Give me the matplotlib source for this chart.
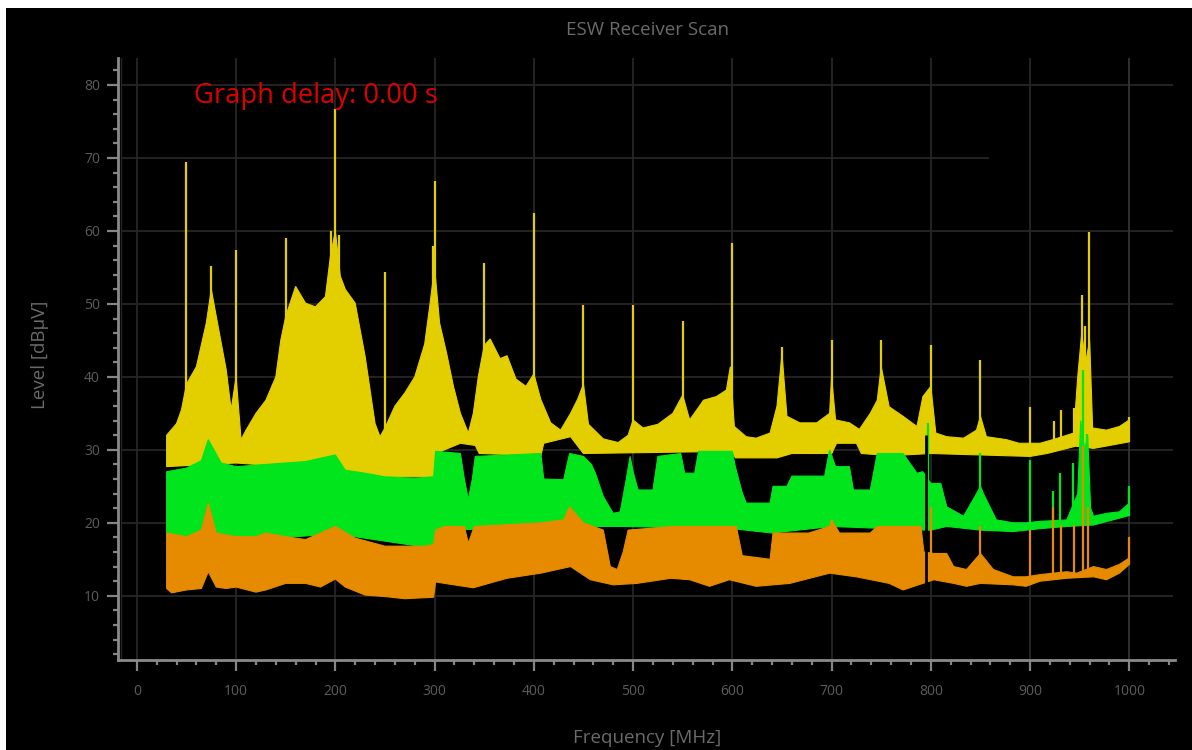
import numpy as np
import matplotlib
matplotlib.use("Agg")
import matplotlib.pyplot as plt
from matplotlib.patches import Rectangle
from matplotlib.ticker import MultipleLocator

plt.rcParams['font.family'] = ['Open Sans', 'DejaVu Sans']

# envelopes: (MHz, dBuV)
yellow_top = [(30, 32), (40, 33.6), (45, 35.5), (50, 39), (60, 41.4), (70, 47.4), (75, 52), (80, 48.3),
              (90, 41), (95, 35.5), (100, 40), (105, 31.4), (110, 32.7), (120, 35), (130, 36.8), (140, 40),
              (145, 45), (150, 48.3), (160, 52.4), (170, 50.1), (180, 49.6), (190, 51), (195, 56.5),
              (200, 60), (205, 53.8), (210, 52), (220, 50.1), (230, 42.8), (240, 33.6), (245, 31.8),
              (250, 33), (260, 36), (270, 37.8), (280, 40), (290, 44.5), (295, 49.6), (300, 55),
              (305, 47.4), (312, 43.3), (319, 38.7), (326, 35), (334, 32.3), (339, 35), (344, 40),
              (350, 44.3), (356, 45.2), (366, 42.5), (373, 42.9), (382, 39.7), (392, 38.7), (400, 40.4),
              (407, 36.9), (417, 33.7), (427, 32.7), (437, 35), (444, 36.9), (450, 39), (455, 33.5),
              (470, 31.5), (485, 31), (495, 32), (500, 34.1), (510, 33), (525, 33.5), (540, 35),
              (550, 37.5), (557, 34.1), (571, 36.8), (584, 37.3), (594, 38.2), (598, 41.4), (602, 33.2),
              (614, 31.8), (624, 31.6), (638, 32.3), (645, 36), (650, 43.2), (655, 34.6), (668, 33.7),
              (685, 33.7), (698, 35), (700, 40), (704, 34.1), (718, 33.7), (728, 32.8), (739, 35),
              (746, 36.8), (750, 41.4), (758, 35.9), (772, 34.6), (786, 33.2), (792, 37.3), (800, 38.7),
              (805, 32.3), (816, 31.8), (833, 31.6), (846, 32.7), (850, 34.6), (856, 31.8), (876, 31.4),
              (889, 30.9), (910, 30.9), (923, 31.4), (944, 32.3), (948, 40), (952, 46), (956, 42),
              (960, 45), (963, 33), (977, 32.7), (990, 33.2), (1000, 34.1)]
yellow_bottom = [(30, 27.7), (100, 28.2), (200, 27.2), (250, 26.3), (299, 26.3), (301, 29.5), (326, 30.9),
                 (341, 30.6), (345, 29.5), (407, 29.2), (410, 30.9), (437, 31.8), (450, 29.5), (600, 29.8),
                 (603, 28.9), (645, 28.9), (660, 29.5), (700, 29.5), (705, 30.9), (725, 30.9), (730, 29.5),
                 (760, 29.2), (800, 29.5), (850, 29.3), (900, 29.1), (917, 29.5), (946, 30.5), (964, 30.2),
                 (984, 30.7), (1000, 31.1)]

green_top = [(30, 27), (50, 27.5), (65, 28.5), (72, 31.4), (85, 28.2), (100, 27.7), (130, 28), (150, 28.2),
             (170, 28.4), (200, 29.3), (210, 27.2), (230, 26.8), (250, 26.3), (280, 26.1), (299, 26.3),
             (301, 29.8), (326, 29.5), (330, 26), (334, 23.2), (338, 26), (341, 29.1), (407, 29.5),
             (410, 26), (430, 25.9), (436, 29.5), (450, 29.1), (458, 28), (462, 26.8), (470, 23.6),
             (480, 21.3), (487, 21.5), (493, 25.9), (497, 29.1), (500, 27), (505, 24.5), (520, 24.5),
             (525, 29.1), (548, 29.5), (552, 26.8), (562, 26.8), (566, 29.8), (600, 29.8), (603, 27.7),
             (610, 24.1), (614, 22.7), (638, 22.7), (641, 25), (655, 25), (660, 26.4), (693, 26.4),
             (698, 30), (704, 27.7), (718, 27.7), (722, 24.5), (739, 24.5), (746, 29.5), (772, 29.5),
             (786, 26.8), (792, 27), (800, 25.4), (810, 25.4), (816, 22.2), (833, 20.9), (846, 24),
             (850, 25), (853, 24), (866, 20.4), (883, 20), (896, 20), (910, 20.2), (937, 20.4), (948, 24),
             (951, 34), (955, 30), (958, 32), (961, 22), (964, 20.9), (977, 21.3), (990, 21.5), (1000, 22.7)]
green_bottom = [(30, 18), (100, 17.5), (200, 18.5), (299, 16.5), (301, 19), (470, 19.5), (490, 19.5),
                (600, 19.2), (640, 18.6), (700, 19.5), (795, 19), (800, 19), (816, 19.5), (850, 19),
                (883, 18.8), (910, 19.2), (937, 19.5), (964, 19.7), (1000, 21)]

orange_top = [(30, 18.6), (50, 18.1), (65, 19), (72, 22.7), (80, 18.6), (100, 18.1), (120, 18.1), (130, 18.6),
              (150, 18.1), (170, 17.7), (200, 19.5), (220, 17.9), (250, 16.8), (290, 16.8), (299, 17),
              (301, 19), (310, 19.5), (330, 19.5), (334, 17.2), (340, 19.5), (407, 20), (430, 20.4),
              (436, 22.2), (450, 20), (470, 19), (477, 14), (484, 13.6), (490, 16), (495, 19), (540, 19.5),
              (604, 19.5), (610, 15.5), (638, 15), (641, 18.6), (677, 18.6), (698, 19.5), (700, 20.4),
              (708, 18.6), (739, 18.6), (746, 19.5), (790, 19.5), (793, 16), (803, 15.8), (816, 15.8),
              (823, 14), (836, 13.6), (850, 15.8), (863, 13.6), (883, 12.6), (896, 12.6), (910, 12.9),
              (937, 13.3), (947, 13.1), (964, 14), (977, 13.6), (990, 14.3), (1000, 15.2)]
orange_bottom = [(30, 11), (35, 10.4), (50, 10.8), (65, 11), (72, 13.3), (80, 11.2), (90, 11), (100, 11.2),
                 (120, 10.5), (130, 10.8), (150, 11.7), (170, 11.7), (185, 11.2), (200, 12.3), (210, 11.2),
                 (230, 10.1), (250, 9.9), (270, 9.6), (299, 9.8), (301, 11.9), (310, 11.7), (339, 11.1),
                 (373, 12.4), (407, 13.1), (437, 14), (457, 12.2), (480, 11.5), (504, 11.7), (538, 12.4),
                 (557, 12.2), (577, 11.3), (597, 12.2), (624, 11.3), (658, 11.7), (698, 13.1), (725, 12.6),
                 (758, 11.7), (772, 10.8), (792, 11.7), (803, 12.2), (823, 11.7), (836, 11.3), (850, 11.7),
                 (883, 11.5), (896, 11.3), (910, 12), (937, 12.4), (964, 12.6), (977, 12.2), (990, 13.1),
                 (1000, 14.3)]

# narrow peaks (MHz, top dBuV)
yellow_spikes = [(50, 69.5), (75, 55.2), (100, 57.4), (150, 59), (196, 60), (200, 76.7), (204, 59.5),
                 (250, 54.4), (298, 58), (300, 66.8), (350, 55.6), (400, 62.4), (450, 49.9), (500, 49.9),
                 (550, 47.6), (600, 58.4), (650, 44.1), (700, 45.1), (750, 45), (800, 44.4), (850, 42.3),
                 (900, 35.9), (924, 33.9), (931, 35.5), (944, 35.7), (952, 51.2), (955, 47), (959, 59.9),
                 (1000, 34.5)]
green_spikes = [(797, 33.7), (850, 29.5), (900, 28.6), (923, 24.3), (930, 26.8), (943, 28.2), (953, 40.9),
                (957, 32.2), (1000, 25)]
orange_spikes = [(800, 22.1), (850, 19.5), (900, 19), (923, 22.1), (931, 19.7), (944, 19.7), (953, 30.5),
                 (958, 22.1), (1000, 18.1)]

traces = [
    ('#e3cf00', yellow_top, yellow_bottom, yellow_spikes),
    ('#00e51c', green_top, green_bottom, green_spikes),
    ('#e68b00', orange_top, orange_bottom, orange_spikes),
]

fig = plt.figure(figsize=(11.92, 7.5), dpi=100, facecolor='white')
fig.add_artist(Rectangle((6 / 1192, 0), 1, 1 - 8 / 750, transform=fig.transFigure,
                         facecolor='black', edgecolor='none', zorder=-10))

ax = fig.add_axes([118 / 1192, 1 - 660 / 750, (1175 - 118) / 1192, (660 - 58) / 750])
ax.set_facecolor('black')
ax.set_xlim(-19, 1046)
ax.set_ylim(1.2, 83.7)

# grid
grid_c = '#262626'
for v in range(10, 90, 10):
    ax.hlines(v, -16, 859 if v == 70 else 1044, color=grid_c, lw=1.3, zorder=1)
for f in range(0, 1001, 100):
    ax.axvline(f, color='#333333' if f == 1000 else grid_c, lw=1.3, zorder=1)
ax.axvline(-16, color=grid_c, lw=1.0, zorder=1)

for i, (col, top, bot, spikes) in enumerate(traces):
    top = np.array(top)
    bot = np.array(bot)
    xs = np.concatenate([top[:, 0], bot[::-1, 0]])
    ys = np.concatenate([top[:, 1], bot[::-1, 1]])
    ax.fill(xs, ys, color=col, lw=0.8, ec=col, zorder=2 + i)
    sp = np.array(spikes)
    base = np.interp(sp[:, 0], bot[:, 0], bot[:, 1])
    ax.vlines(sp[:, 0], base, sp[:, 1], color=col, lw=1.6, zorder=2.5 + i)

ax.vlines(795.5, 10.2, 32, color='black', lw=2, zorder=6)

for s in ['top', 'right']:
    ax.spines[s].set_visible(False)
for s in ['left', 'bottom']:
    ax.spines[s].set_color('#8a8a8a')
    ax.spines[s].set_linewidth(2)

ax.set_xticks(range(0, 1001, 100))
ax.set_yticks(range(10, 81, 10))
ax.xaxis.set_minor_locator(MultipleLocator(20))
ax.yaxis.set_minor_locator(MultipleLocator(2))
ax.tick_params(which='major', length=8, width=1.6, color='#858585', labelcolor='#5c5c5c', labelsize=10)
ax.tick_params(which='minor', length=3.5, width=1.6, color='#858585')
ax.tick_params(axis='x', pad=9)
ax.tick_params(axis='y', pad=5)

fig.text(647 / 1192, 1 - 30 / 750, 'ESW Receiver Scan', color='#6a6a6a', fontsize=13.5, ha='center', va='center')
fig.text(647 / 1192, 1 - 738 / 750, 'Frequency [MHz]', color='#6a6a6a', fontsize=13.5, ha='center', va='center')
fig.text(40 / 1192, 1 - 355 / 750, 'Level [dBµV]', color='#6a6a6a', fontsize=13.5, ha='center', va='center',
         rotation=90)
fig.text(194 / 1192, 1 - 96 / 750, 'Graph delay: 0.00 s', color='#dd0000', fontsize=19.7, ha='left', va='center')

fig.savefig('out.png', dpi=100, facecolor=fig.get_facecolor())
